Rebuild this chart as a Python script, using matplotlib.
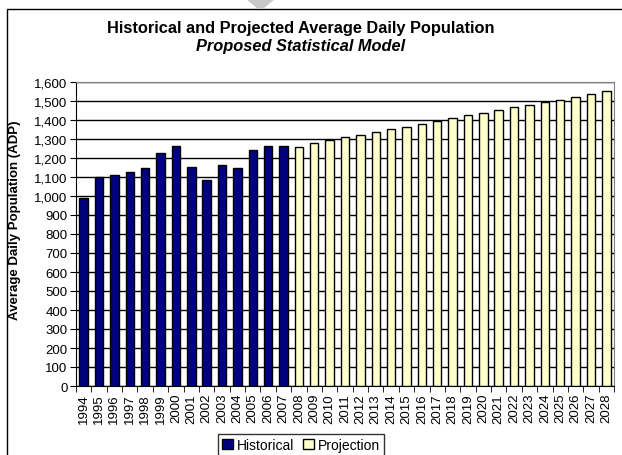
import matplotlib.pyplot as plt
from matplotlib.patches import Rectangle, Polygon
import numpy as np

years = [str(y) for y in range(1994, 2029)]
historical = [992, 1098, 1108, 1124, 1145, 1224, 1263, 1152, 1085, 1165, 1150,
              1243, 1263, 1263]
projection = [1260, 1280, 1296, 1308, 1323, 1336, 1352, 1365, 1378, 1394, 1410,
              1424, 1438, 1452, 1466, 1480, 1495, 1507, 1523, 1537, 1551]
yticks = list(range(0, 1601, 100))

plt.rcParams['font.family'] = ['Liberation Sans', 'DejaVu Sans']

fig = plt.figure(figsize=(6.22, 4.56), dpi=100)
fig.patch.set_facecolor('white')
ax = fig.add_axes([76 / 622, 1 - 387 / 456, 538 / 622, 304 / 456])

x_hist = np.arange(len(historical))
x_proj = np.arange(len(historical), len(historical) + len(projection))

ax.set_axisbelow(True)
ax.yaxis.grid(True, color='black', linewidth=1)
ax.bar(x_hist, historical, width=0.55, color='#000080', edgecolor='black',
       linewidth=1, label='Historical', zorder=3)
ax.bar(x_proj, projection, width=0.55, color='#FFFFCC', edgecolor='black',
       linewidth=1, label='Projection', zorder=3)

ax.set_xlim(-0.5, len(years) - 0.5)
ax.set_ylim(0, 1600)
ax.set_yticks(yticks)
ax.set_yticklabels([f'{v:,}' for v in yticks], fontsize=9.5)
ax.set_xticks(np.arange(len(years)))
ax.set_xticklabels(years, rotation=90, fontsize=9.5)
ax.set_xticks(np.arange(-0.5, len(years), 1), minor=True)
ax.tick_params(axis='x', which='major', length=0, pad=5)
ax.tick_params(axis='x', which='minor', length=4, direction='out', color='black')
ax.tick_params(axis='y', length=4, direction='out', pad=2)

ax.spines['top'].set_color('#808080')
ax.spines['right'].set_color('#808080')
ax.spines['left'].set_color('black')
ax.spines['bottom'].set_color('black')

fig.text(15 / 622, 1 - 220 / 456, 'Average Daily Population (ADP)', rotation=90,
         ha='center', va='center', fontsize=9.5, fontweight='bold')

fig.text(301 / 622, 1 - 28 / 456, 'Historical and Projected Average Daily Population',
         ha='center', va='center', fontsize=11.8, fontweight='bold')
fig.text(301 / 622, 1 - 47 / 456, 'Proposed Statistical Model',
         ha='center', va='center', fontsize=11.8, fontweight='bold', style='italic')

leg = fig.legend(loc='center', bbox_to_anchor=(301 / 622, 1 - 446 / 456), ncol=2,
                 fontsize=10, frameon=True, fancybox=False, edgecolor='black',
                 handlelength=0.8, handleheight=0.8, handletextpad=0.3,
                 columnspacing=0.6, borderpad=0.3)
leg.get_frame().set_linewidth(1)

# chart area frame and the grey shape at the top
fig.patches.append(Rectangle((7 / 622, -0.1), 1.0, 1 - 10 / 456 + 0.1,
                             transform=fig.transFigure, fill=False,
                             edgecolor='black', linewidth=1, zorder=0))
fig.patches.append(Polygon([(246 / 622, 1.0), (275 / 622, 1.0), (263 / 622, 1 - 10 / 456),
                            (258 / 622, 1 - 10 / 456)],
                           transform=fig.transFigure, facecolor='#c8c8c8',
                           edgecolor='none', zorder=0))

fig.savefig('out.png', dpi=100)
